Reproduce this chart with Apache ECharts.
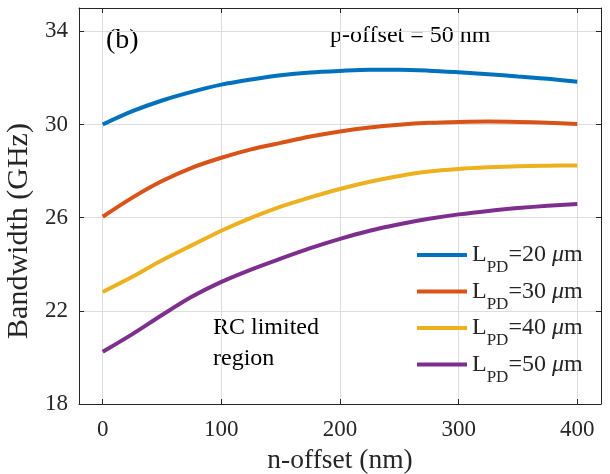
<!DOCTYPE html>
<html>
<head>
<meta charset="utf-8">
<script src="https://cdn.jsdelivr.net/npm/echarts@6/dist/echarts.min.js"></script>
<style>
  html, body { margin: 0; padding: 0; background: #fff; }
  #chart { width: 610px; height: 474px; }
</style>
</head>
<body>
<div id="chart"></div>
<script>
// n-offset (nm)
const nOffset = [0, 25, 50, 75, 100, 125, 150, 175, 200, 225, 250, 275, 300, 325, 350, 375, 400]

// bandwidth (GHz) per PD length
const bw20 = [30.0, 30.57, 31.03, 31.4, 31.71, 31.93, 32.11, 32.23, 32.3, 32.35, 32.35, 32.31, 32.24, 32.16, 32.06, 31.96, 31.83]
const bw30 = [26.04, 26.86, 27.57, 28.14, 28.57, 28.93, 29.21, 29.48, 29.7, 29.87, 29.99, 30.07, 30.11, 30.13, 30.11, 30.07, 30.02]
const bw40 = [22.81, 23.46, 24.17, 24.81, 25.44, 25.99, 26.47, 26.87, 27.23, 27.54, 27.79, 27.98, 28.09, 28.16, 28.21, 28.23, 28.24]
const bw50 = [20.24, 21.0, 21.82, 22.6, 23.24, 23.77, 24.24, 24.69, 25.09, 25.44, 25.72, 25.95, 26.14, 26.29, 26.41, 26.51, 26.59]

const seriesNames = ['L_PD=20 μm', 'L_PD=30 μm', 'L_PD=40 μm', 'L_PD=50 μm']
const seriesData = [bw20, bw30, bw40, bw50]
const colors = ['#0072BD', '#D95319', '#EDB120', '#7E2F8E']

const FONT = 'Liberation Serif'
const INK = '#262626'

const chart = echarts.init(document.getElementById('chart'))

const pairs = ys => nOffset.map((x, i) => [x, ys[i]])

// top / right frame axes, ticks only
const frameAxis = {
  axisLine: { show: true, onZero: false, lineStyle: { color: INK, width: 1 } },
  axisTick: { show: true, inside: true, length: 5, lineStyle: { color: INK } },
  axisLabel: { show: false },
  splitLine: { show: false }
}

chart.setOption({
  animation: false,
  color: colors,
  textStyle: { fontFamily: FONT },
  grid: { left: 79, right: 9, top: 8, bottom: 70, containLabel: false, outerBoundsMode: 'none' },
  xAxis: [{
    type: 'value',
    min: -20,
    max: 420,
    splitNumber: 5,
    name: 'n-offset (nm)',
    nameLocation: 'middle',
    nameGap: 43,
    nameTextStyle: { fontFamily: FONT, fontSize: 27.5, color: INK },
    axisLine: { onZero: false, lineStyle: { color: INK, width: 1 } },
    axisTick: { inside: true, length: 5, lineStyle: { color: INK } },
    axisLabel: { fontFamily: FONT, fontSize: 23, color: INK, margin: 14, showMinLabel: false, showMaxLabel: false },
    splitLine: { show: true, lineStyle: { color: '#dedede', width: 1 } }
  }, Object.assign({ type: 'value', position: 'top', min: -20, max: 420, splitNumber: 5 }, frameAxis)],
  yAxis: [{
    type: 'value',
    min: 18,
    max: 35,
    interval: 4,
    name: 'Bandwidth (GHz)',
    nameLocation: 'middle',
    nameGap: 32,
    nameTextStyle: { fontFamily: FONT, fontSize: 30, color: INK, padding: [0, 50, 0, 0] },
    axisLine: { show: true, onZero: false, lineStyle: { color: INK, width: 1 } },
    axisTick: { show: true, inside: true, length: 5, lineStyle: { color: INK } },
    axisLabel: { fontFamily: FONT, fontSize: 23, color: INK, margin: 11, showMaxLabel: false },
    splitLine: { show: true, lineStyle: { color: '#dedede', width: 1 } }
  }, Object.assign({ type: 'value', position: 'right', min: 18, max: 35, interval: 4 }, frameAxis)],
  legend: {
    orient: 'vertical',
    left: 417,
    top: 243,
    padding: 0,
    itemGap: 3,
    itemWidth: 50,
    itemHeight: 4,
    icon: 'rect',
    data: seriesNames,
    formatter: name => {
      const v = name.match(/=(\d+)/)[1]
      return '{t|L}{s|PD}{t|=' + v + ' }{mu|μ}{t|m}'
    },
    textStyle: {
      color: INK,
      rich: {
        t: { fontFamily: FONT, fontSize: 24, lineHeight: 24, verticalAlign: 'top', color: INK },
        mu: { fontFamily: FONT, fontSize: 24, lineHeight: 24, verticalAlign: 'top', fontStyle: 'italic', color: INK },
        s: { fontFamily: FONT, fontSize: 17, lineHeight: 17, verticalAlign: 'top', padding: [16.5, 0, 0, 0], color: INK }
      }
    }
  },
  graphic: [
    { type: 'text', left: 106, top: 27, style: { text: '(b)', fontFamily: FONT, fontSize: 28, fill: '#000' } },
    { type: 'text', left: 330, top: 24, style: { text: 'p-offset = 50 nm', fontFamily: FONT, fontSize: 24, fill: '#000' } },
    { type: 'text', left: 213, top: 312, style: { text: 'RC limited\nregion', fontFamily: FONT, fontSize: 24, lineHeight: 31, fill: '#000' } }
  ],
  series: seriesNames.map((name, i) => ({
    name,
    type: 'line',
    xAxisIndex: 0,
    yAxisIndex: 0,
    data: pairs(seriesData[i]),
    smooth: 0.3,
    showSymbol: false,
    symbol: 'none',
    lineStyle: { width: 4, color: colors[i] }
  }))
})
</script>
</body>
</html>
